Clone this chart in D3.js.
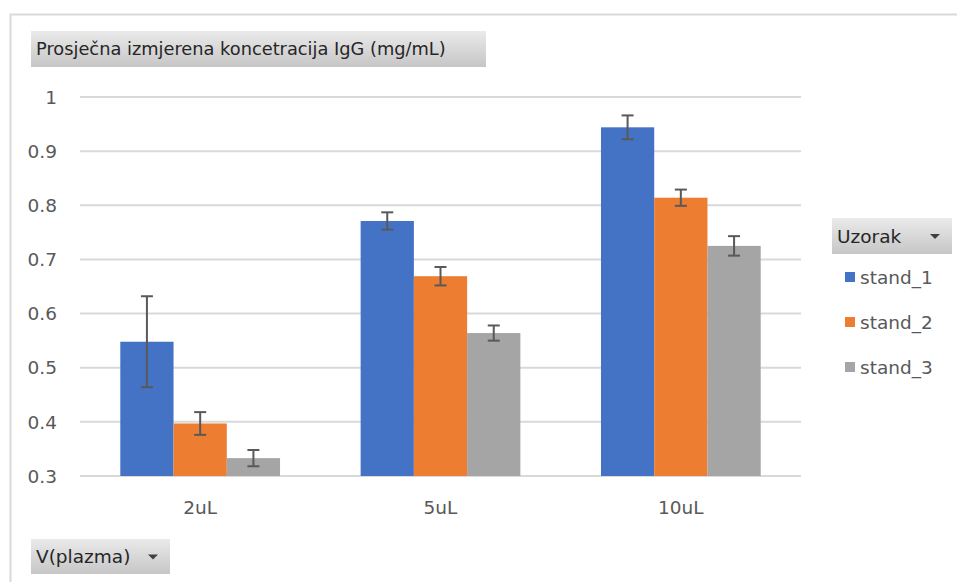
<!DOCTYPE html>
<html>
<head>
<meta charset="utf-8">
<script src="https://cdn.jsdelivr.net/npm/d3@7"></script>
<style>
  html, body { margin: 0; padding: 0; background: #fff; }
  svg { display: block; font-family: "DejaVu Sans", Verdana, sans-serif; }
</style>
</head>
<body>
<div id="chart"></div>
<script>
const categories = ["2uL", "5uL", "10uL"];
const seriesNames = ["stand_1", "stand_2", "stand_3"];
const seriesColors = ["#4472c4", "#ed7d31", "#a5a5a5"];
// mean values per series, in category order
const stand1 = [0.548, 0.771, 0.944];
const stand2 = [0.397, 0.669, 0.814];
const stand3 = [0.333, 0.564, 0.725];
// error bar half-lengths
const err1 = [0.084, 0.016, 0.022];
const err2 = [0.021, 0.017, 0.015];
const err3 = [0.015, 0.014, 0.018];
const yTicks = [0.3, 0.4, 0.5, 0.6, 0.7, 0.8, 0.9, 1];
const yTickLabels = ["0.3", "0.4", "0.5", "0.6", "0.7", "0.8", "0.9", "1"];

const W = 957, H = 582;
const plot = { left: 80, right: 801, top: 97, bottom: 476 };
const FS = 18.5;

const series = [stand1, stand2, stand3].map((vals, s) => ({
  name: seriesNames[s],
  color: seriesColors[s],
  values: vals.map((v, i) => ({ cat: categories[i], value: v, err: [err1, err2, err3][s][i] }))
}));

const svg = d3.select("#chart").append("svg")
  .attr("width", W)
  .attr("height", H);

const defs = svg.append("defs");
const grad = defs.append("linearGradient")
  .attr("id", "btn-grad")
  .attr("x1", 0).attr("y1", 0).attr("x2", 0).attr("y2", 1);
grad.append("stop").attr("offset", "0%").attr("stop-color", "#eaeaea");
grad.append("stop").attr("offset", "100%").attr("stop-color", "#c6c6c6");

// pivot chart frame
svg.append("path")
  .attr("d", `M${W},14.5 H10.5 V${H}`)
  .attr("fill", "none")
  .attr("stroke", "#d9d9d9")
  .attr("stroke-width", 2);

const x0 = d3.scaleBand()
  .domain(categories)
  .range([plot.left, plot.right])
  .paddingInner(0)
  .paddingOuter(0);

const bandPad = 40.3;
const x1 = d3.scaleBand()
  .domain(seriesNames)
  .range([bandPad, x0.bandwidth() - bandPad]);

const y = d3.scaleLinear()
  .domain([0.3, 1])
  .range([plot.bottom, plot.top]);

// gridlines
svg.append("g")
  .selectAll("line")
  .data(yTicks)
  .join("line")
  .attr("x1", plot.left)
  .attr("x2", plot.right)
  .attr("y1", d => y(d))
  .attr("y2", d => y(d))
  .attr("stroke", "#d9d9d9")
  .attr("stroke-width", 2);

// y tick labels
svg.append("g")
  .selectAll("text")
  .data(yTicks)
  .join("text")
  .attr("x", 57)
  .attr("y", d => y(d))
  .attr("dy", "0.36em")
  .attr("text-anchor", "end")
  .attr("fill", "#595959")
  .attr("font-size", FS)
  .text((d, i) => yTickLabels[i]);

// bars
const groups = svg.append("g")
  .selectAll("g")
  .data(series)
  .join("g")
  .attr("fill", d => d.color);

groups.selectAll("rect")
  .data(d => d.values.map(v => ({ ...v, name: d.name })))
  .join("rect")
  .attr("x", d => x0(d.cat) + x1(d.name))
  .attr("width", x1.bandwidth())
  .attr("y", d => y(d.value))
  .attr("height", d => y(0.3) - y(d.value));

// error bars
const errG = svg.append("g")
  .attr("stroke", "#595959")
  .attr("stroke-width", 2)
  .attr("fill", "none");

const errData = series.flatMap(s => s.values.map(v => ({ ...v, name: s.name })));
const capW = 6;
errData.forEach(d => {
  const cx = x0(d.cat) + x1(d.name) + x1.bandwidth() / 2;
  const yt = y(d.value + d.err), yb = y(d.value - d.err);
  errG.append("line").attr("x1", cx).attr("x2", cx).attr("y1", yt).attr("y2", yb);
  errG.append("line").attr("x1", cx - capW).attr("x2", cx + capW).attr("y1", yt).attr("y2", yt);
  errG.append("line").attr("x1", cx - capW).attr("x2", cx + capW).attr("y1", yb).attr("y2", yb);
});

// x axis labels
svg.append("g")
  .selectAll("text")
  .data(categories)
  .join("text")
  .attr("x", d => x0(d) + x0.bandwidth() / 2)
  .attr("y", 514)
  .attr("text-anchor", "middle")
  .attr("fill", "#595959")
  .attr("font-size", FS)
  .text(d => d);

// field buttons
function fieldButton(bx, by, bw, bh, label, arrow, fs) {
  const g = svg.append("g");
  g.append("rect")
    .attr("x", bx).attr("y", by)
    .attr("width", bw).attr("height", bh)
    .attr("fill", "url(#btn-grad)");
  g.append("text")
    .attr("x", bx + 5)
    .attr("y", by + bh / 2)
    .attr("dy", "0.36em")
    .attr("fill", "#262626")
    .attr("font-size", fs)
    .text(label);
  if (arrow) {
    const ax = bx + bw - 17, ay = by + bh / 2;
    g.append("path")
      .attr("d", `M${ax - 5},${ay - 2} L${ax + 5},${ay - 2} L${ax},${ay + 3} Z`)
      .attr("fill", "#404040");
  }
}

fieldButton(31, 31, 455, 36, "Prosječna izmjerena koncetracija IgG (mg/mL)", false, 17.8);
fieldButton(832, 218, 120, 36, "Uzorak", true, FS);
fieldButton(31, 539, 139, 35, "V(plazma)", true, FS);

// legend
const legend = svg.append("g")
  .selectAll("g")
  .data(series)
  .join("g")
  .attr("transform", (d, i) => `translate(845, ${277 + i * 45})`);

legend.append("rect")
  .attr("x", 0).attr("y", -5)
  .attr("width", 10).attr("height", 10)
  .attr("fill", d => d.color);

legend.append("text")
  .attr("x", 15)
  .attr("y", 0)
  .attr("dy", "0.36em")
  .attr("fill", "#595959")
  .attr("font-size", FS)
  .text(d => d.name);
</script>
</body>
</html>
